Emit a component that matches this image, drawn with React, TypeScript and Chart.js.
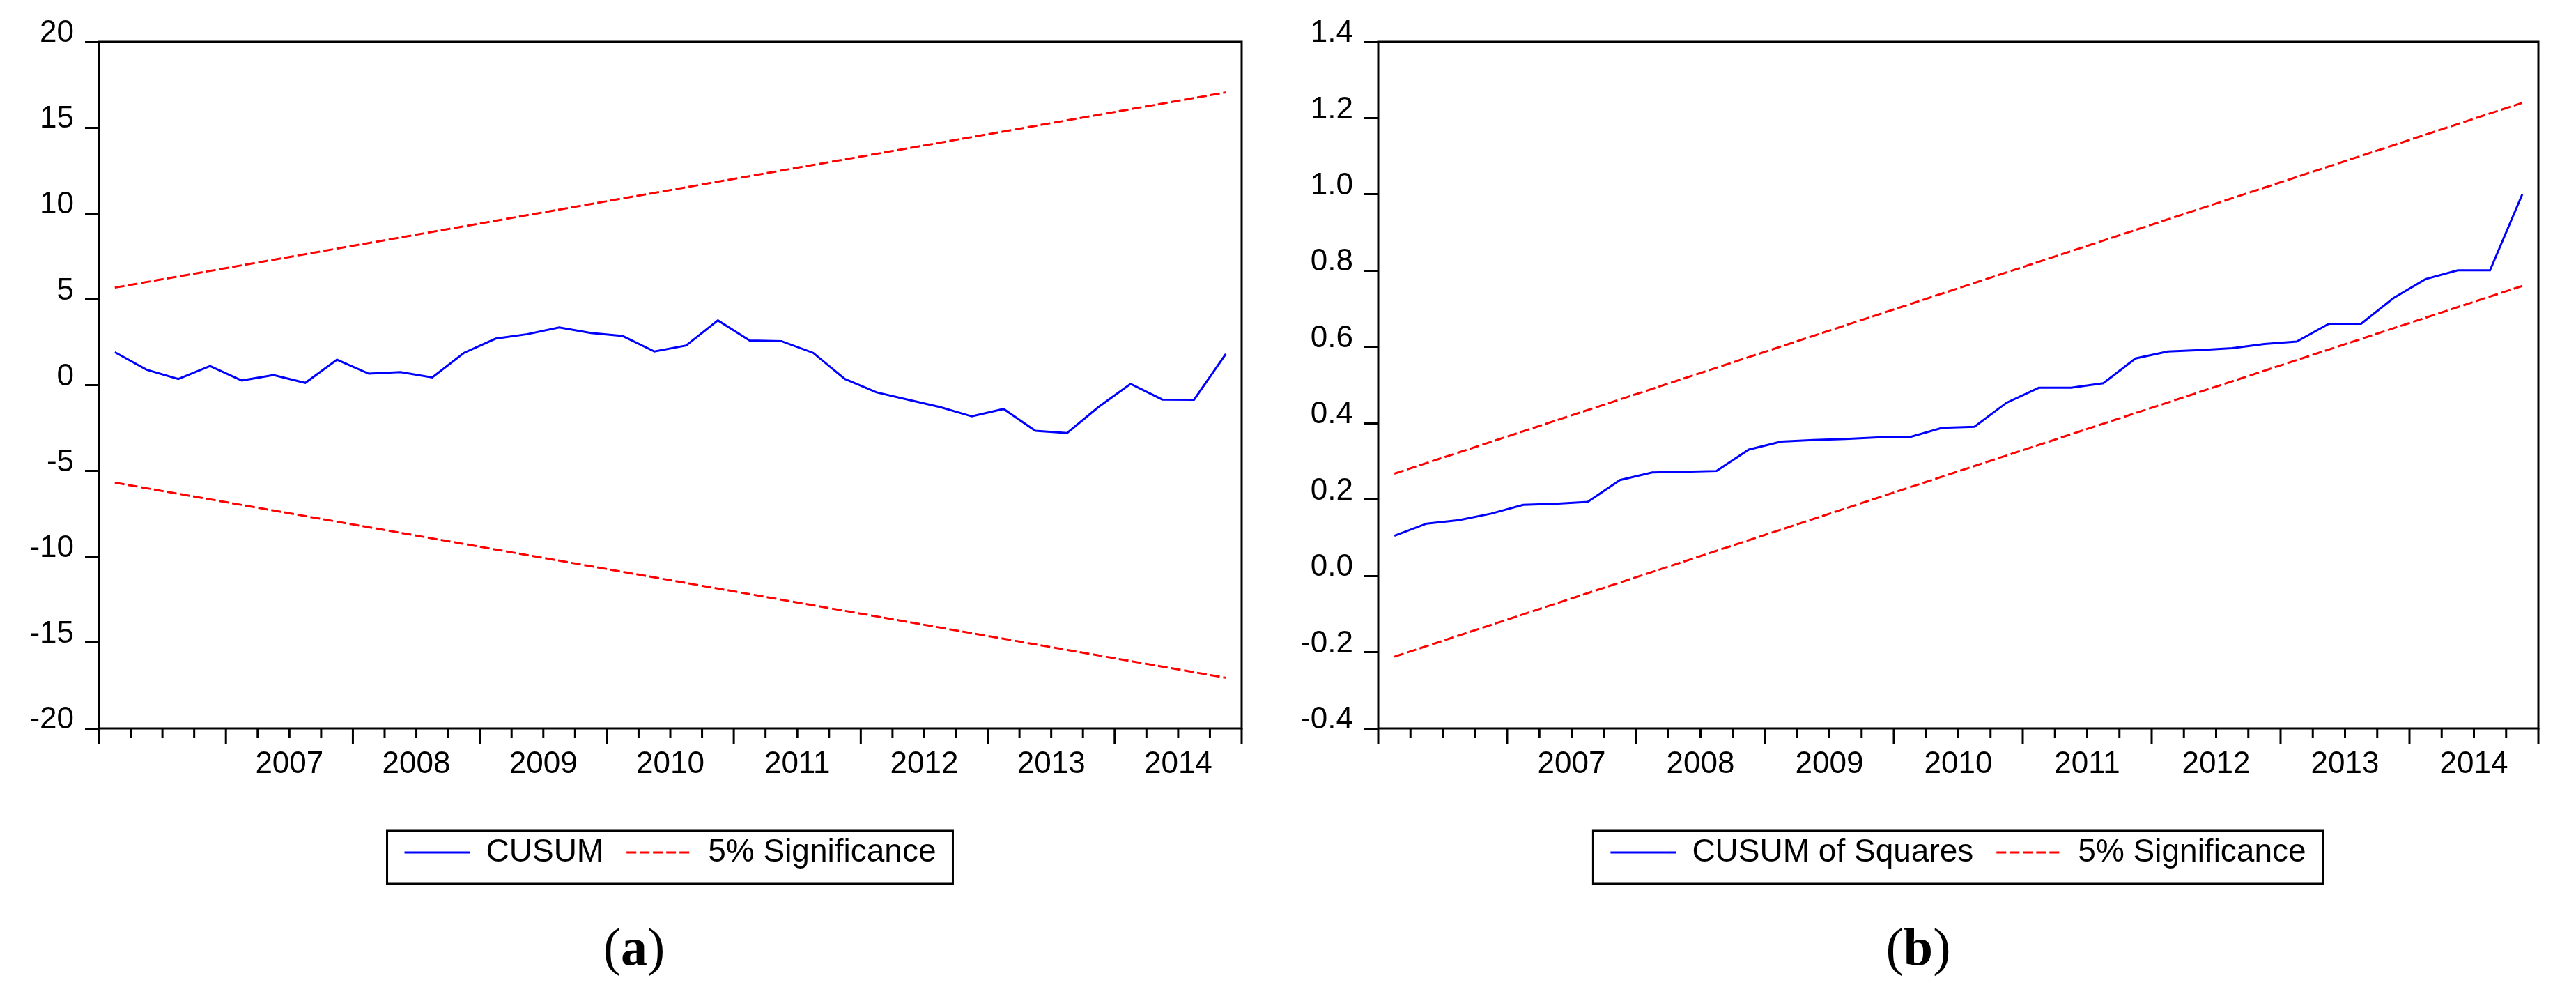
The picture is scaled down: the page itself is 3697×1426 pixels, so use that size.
import React, { useEffect, useRef } from 'react';
import { Chart, registerables } from 'chart.js';

Chart.register(...registerables);

// ---- categories (quarterly sample) ----
const quarters = [
  '2006Q1', '2006Q2', '2006Q3', '2006Q4',
  '2007Q1', '2007Q2', '2007Q3', '2007Q4',
  '2008Q1', '2008Q2', '2008Q3', '2008Q4',
  '2009Q1', '2009Q2', '2009Q3', '2009Q4',
  '2010Q1', '2010Q2', '2010Q3', '2010Q4',
  '2011Q1', '2011Q2', '2011Q3', '2011Q4',
  '2012Q1', '2012Q2', '2012Q3', '2012Q4',
  '2013Q1', '2013Q2', '2013Q3', '2013Q4',
  '2014Q1', '2014Q2', '2014Q3', '2014Q4',
];
// year labels, one per year block (first year is unlabeled in the original)
const yearLabels = ['', '2007', '2008', '2009', '2010', '2011', '2012', '2013', '2014'];

// ---- panel (a): CUSUM ----
const cusum = [
  1.92, 0.90, 0.36, 1.11, 0.27, 0.59, 0.13, 1.48, 0.67, 0.76, 0.45, 1.88,
  2.71, 2.97, 3.36, 3.04, 2.86, 1.96, 2.31, 3.77, 2.60, 2.56, 1.88, 0.36,
  -0.42, -0.85, -1.28, -1.82, -1.39, -2.66, -2.79, -1.26, 0.07, -0.84, -0.85, 1.81,
];
const cusumUpper = [5.68, 17.05]; // at first and last quarter
const cusumLower = [-5.68, -17.05];

// ---- panel (b): CUSUM of Squares ----
const cusumSq = [
  0.105, 0.137, 0.146, 0.163, 0.186, 0.189, 0.194, 0.251, 0.271, 0.273, 0.275, 0.331,
  0.352, 0.356, 0.359, 0.363, 0.364, 0.388, 0.391, 0.454, 0.493, 0.493, 0.505, 0.570,
  0.588, 0.592, 0.597, 0.608, 0.614, 0.661, 0.661, 0.728, 0.778, 0.801, 0.801, 1.000,
];
const sqUpper = [0.268, 1.24];
const sqLower = [-0.212, 0.76];

const FONT = "'Liberation Sans', Arial, Helvetica, sans-serif";
const BLUE = '#0000FF';
const RED = '#FF0000';
const DASH = [14, 5];

const toPoints = (vals: number[]) => vals.map((v, i) => ({ x: i + 0.5, y: v }));
const endPoints = (vals: number[]) => [
  { x: 0.5, y: vals[0] },
  { x: quarters.length - 0.5, y: vals[1] },
];

const framePlugin = {
  id: 'eviewsFrame',
  afterDraw(chart: any) {
    const { ctx, chartArea } = chart;
    const { left, right, top, bottom } = chartArea;
    const xs = chart.scales.x;
    ctx.save();
    ctx.strokeStyle = '#000';
    ctx.lineWidth = 3;
    ctx.setLineDash([]);
    ctx.strokeRect(left, top, right - left, bottom - top);
    ctx.beginPath();
    for (let i = 0; i <= quarters.length; i++) {
      const px = xs.getPixelForValue(i);
      const len = i % 4 === 0 ? 23 : 14;
      ctx.moveTo(px, bottom);
      ctx.lineTo(px, bottom + len);
    }
    ctx.stroke();
    const lg = chart.legend;
    if (lg && lg.legendHitBoxes && lg.legendHitBoxes.length) {
      const hb = lg.legendHitBoxes;
      const last = hb[hb.length - 1];
      const l = hb[0].left - 25;
      const r = last.left + last.width + 24;
      const t = hb[0].top - 8;
      const b = hb[0].top + 68;
      ctx.lineWidth = 3;
      ctx.strokeRect(l, t, r - l, b - t);
    }
    ctx.restore();
  },
};

interface PanelProps {
  left: number;
  width: number;
  yAxisWidth: number;
  padRight: number;
  series: number[];
  upper: number[];
  lower: number[];
  label: string;
  yMin: number;
  yMax: number;
  yStep: number;
  yFmt: (v: number) => string;
}

function Panel(p: PanelProps) {
  const ref = useRef<HTMLCanvasElement | null>(null);
  useEffect(() => {
    if (!ref.current) return;
    const chart = new Chart(ref.current, {
      type: 'line',
      data: {
        datasets: [
          {
            label: p.label,
            data: toPoints(p.series),
            borderColor: BLUE,
            backgroundColor: BLUE,
            borderWidth: 3,
            pointRadius: 0,
            tension: 0,
          },
          {
            label: '5% Significance',
            data: endPoints(p.upper),
            borderColor: RED,
            backgroundColor: RED,
            borderWidth: 3,
            borderDash: DASH,
            pointRadius: 0,
          },
          {
            label: '5% Significance (lower)',
            data: endPoints(p.lower),
            borderColor: RED,
            backgroundColor: RED,
            borderWidth: 3,
            borderDash: DASH,
            pointRadius: 0,
          },
        ],
      },
      options: {
        animation: false,
        responsive: false,
        events: [],
        layout: { padding: { left: 0, right: p.padRight, top: 60, bottom: 170 } },
        scales: {
          x: {
            type: 'linear',
            min: 0,
            max: quarters.length,
            grid: { display: false, drawTicks: true, tickLength: 23 },
            border: { display: false },
            ticks: {
              stepSize: 1,
              autoSkip: false,
              maxRotation: 0,
              minRotation: 0,
              padding: 2,
              color: '#000',
              font: { family: FONT, size: 44 },
              callback: (value: any) => {
                const v = Math.round(Number(value));
                return v % 4 === 2 ? yearLabels[(v - 2) / 4] : '';
              },
            },
            afterFit: (s: any) => {
              s.height = 122;
            },
          },
          y: {
            type: 'linear',
            min: p.yMin,
            max: p.yMax,
            grid: {
              drawOnChartArea: true,
              color: (c: any) =>
                c.tick && Math.abs(c.tick.value) < 1e-9 ? '#000' : 'rgba(0,0,0,0)',
              lineWidth: 1,
              tickColor: '#000',
              tickWidth: 3,
              tickLength: 20,
            },
            border: { display: false },
            ticks: {
              stepSize: p.yStep,
              padding: 16,
              labelOffset: -12,
              color: '#000',
              font: { family: FONT, size: 44 },
              callback: (v: any) => p.yFmt(Number(v)),
            },
            afterFit: (s: any) => {
              s.width = p.yAxisWidth;
            },
          },
        },
        plugins: {
          legend: {
            display: true,
            position: 'bottom',
            fullSize: false,
            labels: {
              usePointStyle: true,
              pointStyle: 'line',
              pointStyleWidth: 94,
              padding: 33,
              color: '#000',
              font: { family: FONT, size: 46 },
              filter: (item: any) => item.datasetIndex < 2,
              generateLabels: (ch: any) => {
                const items = (Chart as any).defaults.plugins.legend.labels.generateLabels(ch);
                return items.map((it: any) => {
                  const ds = ch.data.datasets[it.datasetIndex];
                  return {
                    ...it,
                    strokeStyle: ds.borderColor,
                    fillStyle: ds.borderColor,
                    lineWidth: ds.borderWidth,
                    lineDash: ds.borderDash || [],
                    lineCap: 'butt',
                    pointStyle: 'line',
                  };
                });
              },
            },
          },
          tooltip: { enabled: false },
          title: { display: false },
        },
      } as any,
      plugins: [framePlugin],
    });
    return () => chart.destroy();
  }, []);
  return (
    <canvas
      ref={ref}
      width={p.width}
      height={1426}
      style={{ position: 'absolute', left: p.left, top: 0, width: p.width, height: 1426 }}
    />
  );
}

const captionStyle = (cx: number): React.CSSProperties => ({
  position: 'absolute',
  left: cx,
  top: 1320,
  transform: 'translateX(-50%)',
  fontFamily: "'Liberation Serif', 'Times New Roman', serif",
  fontSize: 76,
  lineHeight: '76px',
  color: '#000',
  whiteSpace: 'nowrap',
});

export default function App() {
  return (
    <div
      style={{
        position: 'absolute',
        left: 0,
        top: 0,
        width: 3697,
        height: 1426,
        background: '#fff',
        overflow: 'hidden',
      }}
    >
      <Panel
        left={0}
        width={1900}
        yAxisWidth={142}
        padRight={118}
        series={cusum}
        upper={cusumUpper}
        lower={cusumLower}
        label="CUSUM"
        yMin={-20}
        yMax={20}
        yStep={5}
        yFmt={(v) => String(Math.round(v))}
      />
      <Panel
        left={1840}
        width={1857}
        yAxisWidth={138}
        padRight={54}
        series={cusumSq}
        upper={sqUpper}
        lower={sqLower}
        label="CUSUM of Squares"
        yMin={-0.4}
        yMax={1.4}
        yStep={0.2}
        yFmt={(v) => (Math.abs(v) < 1e-9 ? 0 : v).toFixed(1)}
      />
      <div style={captionStyle(910)}>
        (<b>a</b>)
      </div>
      <div style={captionStyle(2753)}>
        (<b>b</b>)
      </div>
    </div>
  );
}
